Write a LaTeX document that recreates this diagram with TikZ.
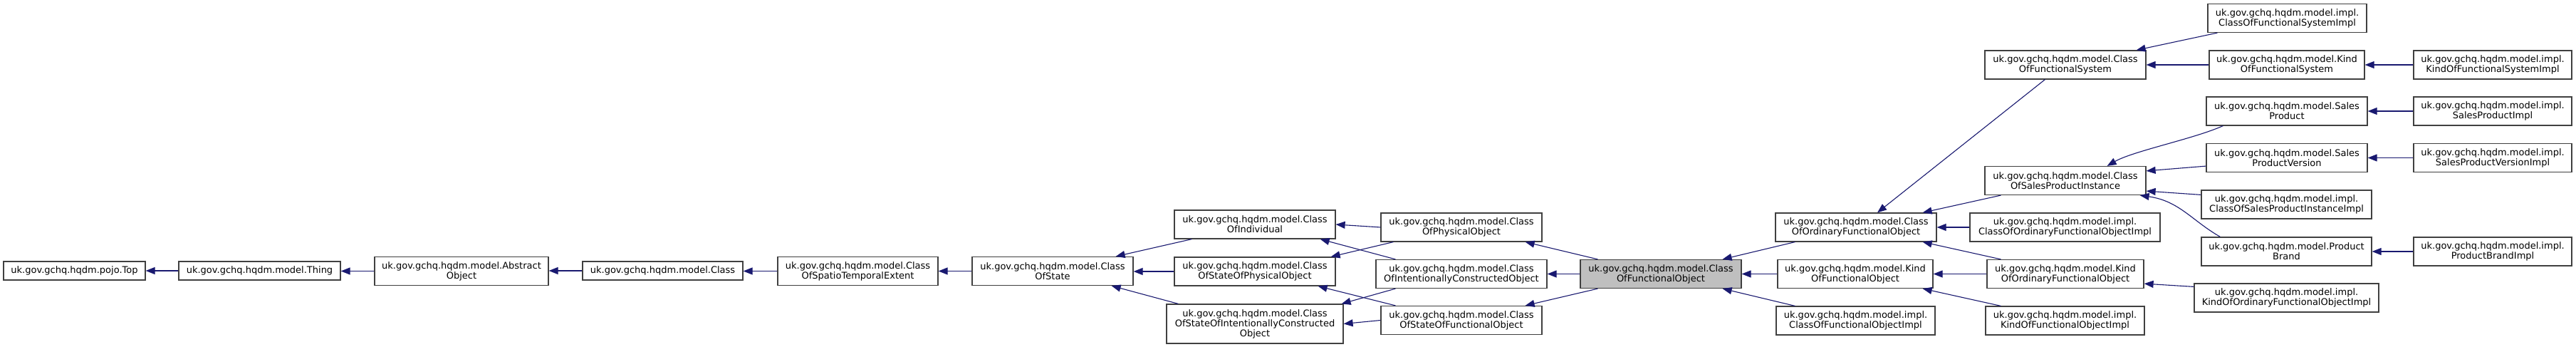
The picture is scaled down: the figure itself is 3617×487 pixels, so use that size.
\documentclass[tikz,border=0pt]{standalone}
\usepackage{fontspec}
\setmainfont{DejaVu Sans}
\usetikzlibrary{arrows.meta,calc}
\definecolor{edgeblue}{HTML}{191970}
\definecolor{boxline}{HTML}{404040}
\newcommand{\hqdm}{uk.gov.gchq.hqdm.model.}
\begin{document}
\begin{tikzpicture}[
    x=1pt, y=-1pt,
    cbox/.style={rectangle, draw=boxline, fill=white, line width=1.2pt, inner sep=0pt, align=center, minimum height=40pt, font=\fontsize{13}{14}\selectfont},
    single/.style={minimum height=26pt},
    triple/.style={minimum height=55pt},
    focus/.style={fill=black!25},
    arrow/.style={-{Triangle[length=13pt,width=10pt]}, draw=edgeblue, line width=1.1pt}
]
    \useasboundingbox[fill=white] (0,0) rectangle (3617,487);

    \node[cbox, single, minimum width=199pt] (top) at (104.5,380) {uk.gov.gchq.hqdm.pojo.Top};
    \node[cbox, single, minimum width=227pt] (thing) at (364.5,380) {\hqdm Thing};
    \node[cbox, minimum width=244pt] (abstractobj) at (648,380.5) {\hqdm Abstract\\Object};
    \node[cbox, single, minimum width=225pt] (cls) at (930.5,380) {\hqdm Class};
    \node[cbox, minimum width=225pt] (cost) at (1204.5,380.5) {\hqdm Class\\OfSpatioTemporalExtent};
    \node[cbox, minimum width=226pt] (cos) at (1478,380.5) {\hqdm Class\\OfState};

    \node[cbox, minimum width=226pt] (coi) at (1762,315) {\hqdm Class\\OfIndividual};
    \node[cbox, minimum width=226pt] (cospo) at (1762,381) {\hqdm Class\\OfStateOfPhysicalObject};
    \node[cbox, triple, minimum width=248pt] (cosico) at (1762,454.5) {\hqdm Class\\OfStateOfIntentionallyConstructed\\Object};

    \node[cbox, minimum width=226pt] (cpo) at (2052,319) {\hqdm Class\\OfPhysicalObject};
    \node[cbox, minimum width=240pt] (cico) at (2052,384.5) {\hqdm Class\\OfIntentionallyConstructedObject};
    \node[cbox, minimum width=226pt] (cosfo) at (2052,449.5) {\hqdm Class\\OfStateOfFunctionalObject};

    \node[cbox, focus, minimum width=226pt] (cfo) at (2332,384.5) {\hqdm Class\\OfFunctionalObject};

    \node[cbox, minimum width=226pt] (coofo) at (2606,319) {\hqdm Class\\OfOrdinaryFunctionalObject};
    \node[cbox, minimum width=218pt] (kofo) at (2605,384.5) {\hqdm Kind\\OfFunctionalObject};
    \node[cbox, minimum width=223pt] (cfoimpl) at (2605.5,450) {\hqdm impl.\\ClassOfFunctionalObjectImpl};

    \node[cbox, minimum width=226pt] (cofs) at (2900,91) {\hqdm Class\\OfFunctionalSystem};
    \node[cbox, minimum width=226pt] (cospi) at (2900,253.5) {\hqdm Class\\OfSalesProductInstance};
    \node[cbox, minimum width=267pt] (coofoimpl) at (2899.5,319) {\hqdm impl.\\ClassOfOrdinaryFunctionalObjectImpl};
    \node[cbox, minimum width=220pt] (koofo) at (2900,384.5) {\hqdm Kind\\OfOrdinaryFunctionalObject};
    \node[cbox, minimum width=223pt] (kofoimpl) at (2899.5,450) {\hqdm impl.\\KindOfFunctionalObjectImpl};

    \node[cbox, minimum width=223pt] (cofsimpl) at (3211.5,25.5) {\hqdm impl.\\ClassOfFunctionalSystemImpl};
    \node[cbox, minimum width=218pt] (kofs) at (3211,91) {\hqdm Kind\\OfFunctionalSystem};
    \node[cbox, minimum width=226pt] (sp) at (3211,156) {\hqdm Sales\\Product};
    \node[cbox, minimum width=226pt] (spv) at (3211,221.5) {\hqdm Sales\\ProductVersion};
    \node[cbox, minimum width=239pt] (cospiimpl) at (3210.5,287) {\hqdm impl.\\ClassOfSalesProductInstanceImpl};
    \node[cbox, minimum width=239pt] (pb) at (3210.5,353) {\hqdm Product\\Brand};
    \node[cbox, minimum width=259pt] (koofoimpl) at (3210.5,418) {\hqdm impl.\\KindOfOrdinaryFunctionalObjectImpl};

    \node[cbox, minimum width=222pt] (kofsimpl) at (3500,91) {\hqdm impl.\\KindOfFunctionalSystemImpl};
    \node[cbox, minimum width=222pt] (spimpl) at (3500,156) {\hqdm impl.\\SalesProductImpl};
    \node[cbox, minimum width=222pt] (spvimpl) at (3500,221.5) {\hqdm impl.\\SalesProductVersionImpl};
    \node[cbox, minimum width=222pt] (pbimpl) at (3500,353) {\hqdm impl.\\ProductBrandImpl};

    \draw[arrow] (thing.west) -- (thing.west -| top.east);
    \draw[arrow] (abstractobj.west) -- (abstractobj.west -| thing.east);
    \draw[arrow] (cls.west) -- (cls.west -| abstractobj.east);
    \draw[arrow] (cost.west) -- (cost.west -| cls.east);
    \draw[arrow] (cos.west) -- (cos.west -| cost.east);

    \draw[arrow] ($(coi.south west)+(25,0)$) -- ($(cos.north east)+(-25,0)$);
    \draw[arrow] (cospo.west) -- (cospo.west -| cos.east);
    \draw[arrow] ($(cosico.north west)+(17,0)$) -- ($(cos.south east)+(-31,0)$);

    \draw[arrow] (cpo.west) -- (coi.east);
    \draw[arrow] ($(cpo.south west)+(18,0)$) -- ($(cospo.north east)+(-7,0)$);
    \draw[arrow] ($(cico.north west)+(28,0)$) -- ($(coi.south east)+(-22,0)$);
    \draw[arrow] ($(cico.south west)+(28,0)$) -- ($(cosico.north east)+(-3,0)$);
    \draw[arrow] ($(cosfo.north west)+(21,0)$) -- ($(cospo.south east)+(-25,0)$);
    \draw[arrow] (cosfo.west) -- (cosico.east);

    \draw[arrow] ($(cfo.north west)+(25,0)$) -- ($(cpo.south east)+(-24,0)$);
    \draw[arrow] (cfo.west) -- (cico.east);
    \draw[arrow] ($(cfo.south west)+(25,0)$) -- ($(cosfo.north east)+(-24,0)$);

    \draw[arrow] ($(coofo.south west)+(28,0)$) -- ($(cfo.north east)+(-27,0)$);
    \draw[arrow] (kofo.west) -- (kofo.west -| cfo.east);
    \draw[arrow] ($(cfoimpl.north west)+(27,0)$) -- ($(cfo.south east)+(-27,0)$);

    \draw[arrow] ($(cofs.south west)+(85,0)$) -- ($(coofo.north)+(30,0)$);
    \draw[arrow] ($(cospi.south west)+(23,0)$) -- ($(coofo.north east)+(-20,0)$);
    \draw[arrow] (coofoimpl.west) -- (coofoimpl.west -| coofo.east);
    \draw[arrow] ($(koofo.north west)+(20,0)$) -- ($(coofo.south east)+(-20,0)$);
    \draw[arrow] (koofo.west) -- (koofo.west -| kofo.east);
    \draw[arrow] ($(kofoimpl.north west)+(22,0)$) -- ($(kofo.south east)+(-15,0)$);

    \draw[arrow] ($(cofsimpl.south west)+(14,0)$) -- ($(cofs.north east)+(-14,0)$);
    \draw[arrow] (kofs.west) -- (kofs.west -| cofs.east);
    \draw[arrow] (kofsimpl.west) -- (kofsimpl.west -| kofs.east);
    \draw[arrow] ($(sp.south west)+(24,0)$) .. controls (3080,195) and (2995,212) .. ($(cospi.north east)+(-55,0)$);
    \draw[arrow] (spimpl.west) -- (spimpl.west -| sp.east);
    \draw[arrow] ($(spv.south west)+(0,-9)$) -- ($(cospi.north east)+(0,7)$);
    \draw[arrow] (spvimpl.west) -- (spvimpl.west -| spv.east);
    \draw[arrow] ($(cospiimpl.north west)+(0,7)$) -- ($(cospi.south east)+(0,-6)$);
    \draw[arrow] ($(pb.north west)+(27,0)$) .. controls (3078,310) and (3060,282) .. ($(cospi.south east)+(-9,0)$);
    \draw[arrow] (pbimpl.west) -- (pbimpl.west -| pb.east);
    \draw[arrow] ($(koofoimpl.north west)+(0,5)$) -- ($(koofo.south east)+(0,-7)$);
\end{tikzpicture}
\end{document}
